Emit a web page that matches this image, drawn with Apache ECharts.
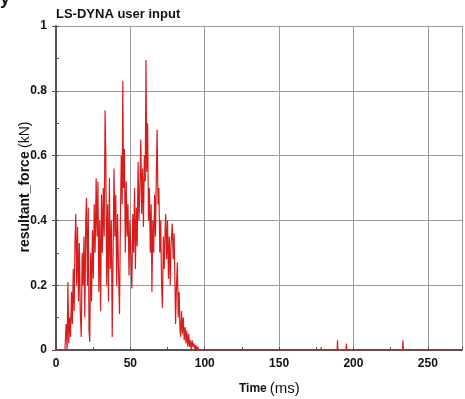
<!DOCTYPE html>
<html>
<head>
<meta charset="utf-8">
<title>LS-DYNA user input</title>
<script src="https://cdn.jsdelivr.net/npm/echarts@6/dist/echarts.min.js"></script>
<style>
  html, body { margin: 0; padding: 0; background: #fff; }
  #chart { width: 465px; height: 399px; }
</style>
</head>
<body>
<div id="chart"></div>
<script>
// time (ms) and resultant force (kN)
const timeMs = [
  0, 6, 6.8, 7.5, 8.0, 8.6, 9.2, 9.8, 10.4, 11.0, 11.6, 12.2, 12.7, 13.3, 13.9, 14.5,
  15.1, 15.7, 16.3, 17.0, 17.6, 18.2, 18.8, 19.4, 20.0, 20.5, 21.1, 21.7, 22.2, 22.7,
  23.3, 23.9, 24.5, 25.1, 25.7, 26.3, 27.0, 27.6, 28.2, 28.8, 29.4, 30.0, 30.6, 31.2,
  31.8, 32.4, 33.0, 33.5, 34.1, 34.7, 35.3, 35.9, 36.5, 37.2, 37.8, 38.4, 39.0, 39.6,
  40.2, 40.8, 41.4, 42.0, 42.7, 43.3, 43.9, 44.5, 44.9, 45.4, 46.0, 46.6, 47.2, 47.8,
  48.4, 49.1, 49.7, 50.3, 51.0, 51.6, 52.2, 52.8, 53.4, 54.0, 54.6, 55.2, 55.8, 56.4,
  57.0, 57.6, 58.2, 58.8, 59.4, 60.0, 60.5, 61.0, 61.6, 62.2, 62.8, 63.4, 64.0, 64.5,
  65.1, 65.7, 66.3, 66.9, 67.5, 68.0, 68.6, 69.2, 69.8, 70.4, 71.0, 71.6, 72.2, 72.8,
  73.4, 73.8, 74.4, 75.0, 75.6, 76.2, 76.8, 77.4, 78.2, 78.8, 79.4, 80.0, 80.4, 81.0,
  81.6, 82.2, 82.8, 83.4, 83.8, 84.4, 85.0, 85.6, 86.2, 86.8, 87.4, 88.0, 88.6, 89.2,
  89.8, 90.4, 91.0, 91.6, 92.2, 92.8, 93.4, 94.0, 94.6, 95.2, 96.0, 97.0,
  178.0, 178.3, 178.6, 189.0, 189.3, 189.6, 195.0, 195.3, 195.6,
  233.0, 233.3, 233.6, 260.2, 260.4, 260.6, 273
];
const forceKN = [
  0, 0, 0.08, 0.0, 0.21, 0.02, 0.10, 0.04, 0.18, 0.08, 0.25, 0.12, 0.32, 0.42, 0.20, 0.38,
  0.15, 0.33, 0.12, 0.04, 0.30, 0.20, 0.35, 0.10, 0.40, 0.47, 0.20, 0.44, 0.06, 0.025,
  0.30, 0.15, 0.37, 0.22, 0.45, 0.30, 0.53, 0.35, 0.52, 0.18, 0.40, 0.12, 0.48, 0.30,
  0.50, 0.35, 0.74, 0.60, 0.20, 0.45, 0.15, 0.53, 0.25, 0.40, 0.04, 0.30, 0.56, 0.35,
  0.48, 0.20, 0.42, 0.25, 0.11, 0.40, 0.60, 0.45, 0.83, 0.50, 0.62, 0.30, 0.52, 0.35,
  0.45, 0.23, 0.40, 0.30, 0.19, 0.42, 0.30, 0.50, 0.25, 0.44, 0.32, 0.58, 0.40, 0.50,
  0.65, 0.42, 0.56, 0.38, 0.60, 0.52, 0.895, 0.55, 0.70, 0.40, 0.50, 0.30, 0.45, 0.18,
  0.40, 0.30, 0.48, 0.35, 0.55, 0.68, 0.45, 0.50, 0.30, 0.40, 0.20, 0.13, 0.35, 0.25,
  0.38, 0.42, 0.28, 0.40, 0.22, 0.35, 0.20, 0.33, 0.39, 0.28, 0.36, 0.20, 0.08, 0.20,
  0.27, 0.10, 0.18, 0.06, 0.04, 0.12, 0.05, 0.10, 0.03, 0.07, 0.02, 0.06, 0.01, 0.05,
  0.01, 0.03, 0.0, 0.03, 0.01, 0.02, 0.0, 0.015, 0.0, 0.01, 0.0, 0,
  0, 0.008, 0, 0, 0.03, 0, 0, 0.02, 0,
  0, 0.03, 0, 0, 0.005, 0, 0
];
const xTicks = [0, 50, 100, 150, 200, 250];

const chart = echarts.init(document.getElementById('chart'), null, { renderer: 'canvas' });

const gridColor = '#9a9a9a';
const axisColor = '#555';
const font = 'Liberation Sans';

const option = {
  animation: false,
  textStyle: { fontFamily: font },
  grid: { left: 56, right: 0, top: 26, bottom: 49, containLabel: false },
  xAxis: {
    type: 'value',
    min: 0,
    max: 273,
    interval: 50,
    axisLine: { show: true, onZero: false, lineStyle: { color: axisColor, width: 2 } },
    axisTick: { show: true, inside: true, length: 3, lineStyle: { color: axisColor } },
    minorTick: { show: true, splitNumber: 2, length: 3, lineStyle: { color: axisColor } },
    axisLabel: {
      margin: 8,
      color: '#111',
      fontSize: 12,
      fontWeight: 'bold',
      formatter: v => (xTicks.indexOf(v) >= 0 ? String(v) : '')
    },
    splitLine: { show: true, lineStyle: { color: gridColor, width: 1 } }
  },
  yAxis: [
    {
      type: 'value',
      min: 0,
      max: 1,
      interval: 0.2,
      axisLine: { show: true, lineStyle: { color: axisColor, width: 2 } },
      axisTick: { show: true, length: 4, lineStyle: { color: axisColor } },
      axisLabel: {
        margin: 9,
        color: '#111',
        fontSize: 12,
        fontWeight: 'bold',
        formatter: v => (v === 0 || v === 1 ? String(v) : v.toFixed(1))
      },
      splitLine: { show: true, lineStyle: { color: gridColor, width: 1 } }
    },
    {
      // inside minor ticks every 0.1
      type: 'value',
      position: 'left',
      min: 0,
      max: 1,
      interval: 0.1,
      axisLine: { show: false },
      axisTick: { show: true, inside: true, length: 3, lineStyle: { color: axisColor } },
      axisLabel: { show: false },
      splitLine: { show: false }
    }
  ],
  graphic: [
    {
      type: 'text',
      left: 56,
      top: 8,
      style: { text: 'LS-DYNA user input', font: 'bold 13px "Liberation Sans"', fill: '#111' }
    },
    {
      type: 'text',
      left: 0,
      top: -10,
      style: { text: 'y', font: 'bold 18px "Liberation Sans"', fill: '#111' }
    },
    {
      type: 'text',
      x: 25,
      y: 187,
      rotation: Math.PI / 2,
      style: {
        text: '{b|resultant_force} {r|(kN)}',
        rich: {
          b: { fontFamily: font, fontSize: 14, fontWeight: 'bold', fill: '#111' },
          r: { fontFamily: font, fontSize: 14, fill: '#111' }
        },
        textAlign: 'center',
        textVerticalAlign: 'middle'
      }
    },
    {
      type: 'text',
      left: 239,
      top: 381,
      style: {
        text: '{b|Time}{r|(ms)}',
        rich: {
          b: { fontFamily: font, fontSize: 12, fontWeight: 'bold', fill: '#111' },
          r: { fontFamily: font, fontSize: 15, fill: '#111', padding: [0, 0, 0, 3] }
        }
      }
    }
  ],
  series: [
    {
      type: 'line',
      data: timeMs.map((t, i) => [t, forceKN[i]]),
      showSymbol: false,
      lineStyle: { color: '#d81c1c', width: 1.2 },
      z: 5
    }
  ]
};

chart.setOption(option);
</script>
</body>
</html>
